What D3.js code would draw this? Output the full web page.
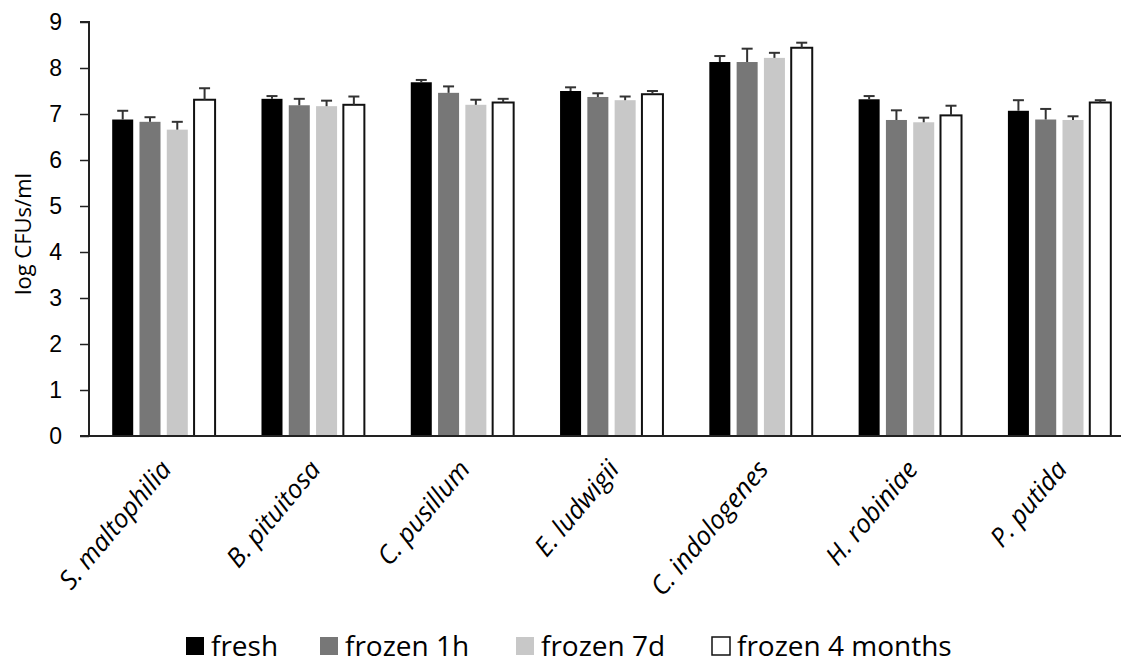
<!DOCTYPE html>
<html>
<head>
<meta charset="utf-8">
<script src="https://cdn.jsdelivr.net/npm/d3@7"></script>
<style>
	body { margin: 0; background: #fff; }
	svg { display: block; font-family: "Open Sans", "Noto Sans", sans-serif; }
	.ticklab { font-size: 23px; fill: #000; }
	.catlab { font-size: 26px; font-style: italic; fill: #000; }
	.ytitle { font-size: 22px; fill: #000; }
	.legtext { font-size: 28px; fill: #000; }
</style>
</head>
<body>
<svg id="chartsvg"></svg>
<script>
// species on the x axis
var species = ["S. maltophilia", "B. pituitosa", "C. pusillum", "E. ludwigii", "C. indologenes", "H. robiniae", "P. putida"];
// storage conditions (legend)
var conditions = ["fresh", "frozen 1h", "frozen 7d", "frozen 4 months"];
// mean log CFUs/ml per condition, in species order
var fresh   = [6.88, 7.33, 7.69, 7.50, 8.13, 7.32, 7.07];
var frozen1h = [6.83, 7.19, 7.46, 7.37, 8.13, 6.87, 6.88];
var frozen7d = [6.66, 7.17, 7.20, 7.30, 8.22, 6.82, 6.87];
var frozen4m = [7.31, 7.20, 7.25, 7.43, 8.44, 6.97, 7.25];
// upper error bar lengths
var errFresh = [0.19, 0.06, 0.05, 0.08, 0.13, 0.07, 0.23];
var err1h    = [0.10, 0.14, 0.14, 0.08, 0.29, 0.21, 0.23];
var err7d    = [0.17, 0.12, 0.11, 0.08, 0.11, 0.10, 0.08];
var err4m    = [0.25, 0.18, 0.08, 0.07, 0.11, 0.21, 0.05];
var yTicks = [0, 1, 2, 3, 4, 5, 6, 7, 8, 9];

var values = [fresh, frozen1h, frozen7d, frozen4m];
var errors = [errFresh, err1h, err7d, err4m];
var fills = ["#000000", "#777777", "#c8c8c8", "#ffffff"];

var W = 1121, H = 664;
var svg = d3.select("#chartsvg").attr("width", W).attr("height", H);

//Scales: plot area runs a little past the right edge, as in the original
var x0 = d3.scaleBand().domain(species).range([89, 1134]);
var x1 = d3.scaleBand().domain(conditions).range([0, x0.bandwidth()])
	.paddingInner(0.23).paddingOuter(0.85);
var y = d3.scaleLinear().domain([0, 9]).range([436, 22]);

//Flatten into rows for drawing
var rows = [];
species.forEach(function(s, i) {
	conditions.forEach(function(c, j) {
		rows.push({sp: s, cond: c, k: j, v: values[j][i], e: errors[j][i]});
	});
});

//Bars
svg.append("g").selectAll("rect").data(rows).enter().append("rect")
	.attr("x", function(d) { return x0(d.sp) + x1(d.cond); })
	.attr("y", function(d) { return y(d.v); })
	.attr("width", x1.bandwidth())
	.attr("height", function(d) { return y(0) - y(d.v); })
	.attr("fill", function(d) { return fills[d.k]; })
	.attr("stroke", function(d) { return d.k == 3 ? "#111" : "none"; })
	.attr("stroke-width", 2);

//Error bars (upper only)
var eb = svg.append("g").attr("stroke", "#333").attr("stroke-width", 2);
rows.forEach(function(d) {
	var cx = x0(d.sp) + x1(d.cond) + x1.bandwidth() / 2;
	eb.append("line").attr("x1", cx).attr("x2", cx).attr("y1", y(d.v)).attr("y2", y(d.v + d.e));
	eb.append("line").attr("x1", cx - 5.5).attr("x2", cx + 5.5).attr("y1", y(d.v + d.e)).attr("y2", y(d.v + d.e));
});

//Y axis
var yAxis = d3.axisLeft(y).tickValues(yTicks).tickSize(9).tickPadding(18).tickFormat(d3.format("d"));
var ya = svg.append("g").attr("transform", "translate(89,0)").call(yAxis);
ya.select(".domain").attr("stroke", "#222").attr("stroke-width", 2).attr("d", "M-9,22H0V436H-9");
ya.selectAll(".tick line").attr("stroke", "#222").attr("stroke-width", 1.5);
ya.selectAll(".tick text").attr("class", "ticklab").attr("font-family", null).attr("font-size", null).attr("fill", null);

//X axis baseline
svg.append("line").attr("x1", 89).attr("x2", W).attr("y1", y(0)).attr("y2", y(0))
	.attr("stroke", "#222").attr("stroke-width", 2);

//Category labels, rotated
svg.append("g").selectAll("text").data(species).enter().append("text")
	.attr("class", "catlab")
	.attr("text-anchor", "end")
	.attr("transform", function(d) {
		return "translate(" + (x0(d) + x0.bandwidth() / 2 + 9) + ",470)rotate(-50)";
	})
	.text(function(d) { return d; });

//Y axis title
svg.append("text").attr("class", "ytitle")
	.attr("text-anchor", "middle")
	.attr("transform", "translate(31,234)rotate(-90)")
	.text("log CFUs/ml");

//Legend
var legX = [186, 320, 516, 712];
var leg = svg.append("g");
conditions.forEach(function(c, j) {
	leg.append("rect").attr("x", legX[j]).attr("y", 637).attr("width", 18).attr("height", 18)
		.attr("fill", fills[j])
		.attr("stroke", j == 3 ? "#111" : "none").attr("stroke-width", 1.5);
	leg.append("text").attr("class", "legtext").attr("x", legX[j] + 25).attr("y", 656).text(c);
});
</script>
</body>
</html>
